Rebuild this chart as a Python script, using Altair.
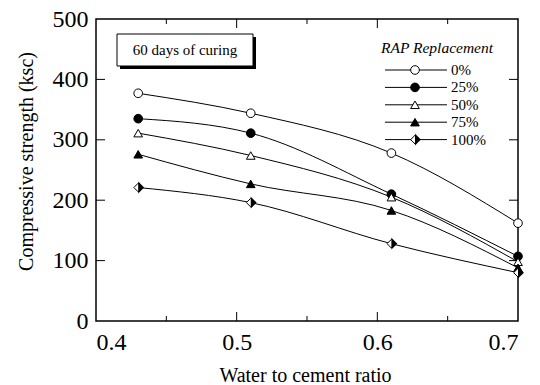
import altair as alt
import pandas as pd

# ---- data ----
wc_ratio = [0.43, 0.51, 0.61, 0.70]
series_names = ["0%", "25%", "50%", "75%", "100%"]
strength = {
    "0%":   [377, 344, 278, 162],
    "25%":  [335, 311, 210, 107],
    "50%":  [311, 274, 205, 98],
    "75%":  [276, 227, 183, 88],
    "100%": [221, 196, 128, 80],
}
x_major_ticks = [0.5, 0.6]
x_minor_ticks = [0.45, 0.55, 0.65]
x_labels = [0.4, 0.5, 0.6, 0.7]
y_ticks = [100, 200, 300, 400]
y_labels = [0, 100, 200, 300, 400, 500]

rows = []
for s in series_names:
    for x, v in zip(wc_ratio, strength[s]):
        rows.append({"series": s, "wc": x, "ksc": v})
df = pd.DataFrame(rows)

# ---- layout / style ----
W, H = 422, 302
FONT = "Liberation Serif"
shapes = ["circle", "circle", "triangle-up", "triangle-up", "diamond"]
fills = ["white", "black", "white", "black", "white"]
sizes = [75, 75, 95, 95, 140]
HALF_DIAMOND = "M0,-1L1,0L0,1Z"

xs = alt.Scale(domain=[0.4, 0.7], nice=False, zero=False)
ys = alt.Scale(domain=[0, 500], nice=False)
shape_sc = alt.Scale(domain=series_names, range=shapes)
fill_sc = alt.Scale(domain=series_names, range=fills)
size_sc = alt.Scale(domain=series_names, range=sizes)

base = alt.Chart(df)

lines = base.mark_line(interpolate="monotone", color="black", strokeWidth=1).encode(
    x=alt.X("wc:Q", scale=xs, axis=alt.Axis(
        values=x_labels, format=".1f", ticks=False, domain=False, grid=False,
        labelFont=FONT, labelFontSize=24, labelColor="black", labelPadding=9,
        title="Water to cement ratio", titleFont=FONT, titleFontSize=20,
        titleFontWeight="normal", titleColor="black", titleX=209, titleY=60,
        titleAlign="center", titleBaseline="alphabetic")),
    y=alt.Y("ksc:Q", scale=ys, axis=alt.Axis(
        values=y_labels, ticks=False, domain=False, grid=False,
        labelFont=FONT, labelFontSize=24, labelColor="black", labelPadding=8,
        title="Compressive strength (ksc)", titleFont=FONT, titleFontSize=20,
        titleFontWeight="normal", titleColor="black", titleAngle=-90,
        titleX=-64, titleY=142, titleAlign="center", titleBaseline="alphabetic")),
    detail="series:N",
)

points = base.mark_point(filled=True, stroke="black", strokeWidth=1, opacity=1).encode(
    x=alt.X("wc:Q", scale=xs),
    y=alt.Y("ksc:Q", scale=ys),
    shape=alt.Shape("series:N", scale=shape_sc, legend=None),
    fill=alt.Fill("series:N", scale=fill_sc, legend=None),
    size=alt.Size("series:N", scale=size_sc, legend=None),
)

half = base.transform_filter(alt.datum.series == "100%").mark_point(
    filled=True, fill="black", strokeWidth=0, shape=HALF_DIAMOND, size=140, opacity=1
).encode(x=alt.X("wc:Q", scale=xs), y=alt.Y("ksc:Q", scale=ys))

# ---- inward ticks ----
tx_major = pd.DataFrame({"t": x_major_ticks})
tx_minor = pd.DataFrame({"t": x_minor_ticks})
ty = pd.DataFrame({"t": y_ticks})
tick_layers = []
for d, ln in [(tx_major, 9), (tx_minor, 5)]:
    tick_layers.append(alt.Chart(d).mark_rule(color="black", strokeWidth=1).encode(
        x=alt.X("t:Q", scale=xs), y=alt.value(H), y2=alt.value(H - ln)))
    tick_layers.append(alt.Chart(d).mark_rule(color="black", strokeWidth=1).encode(
        x=alt.X("t:Q", scale=xs), y=alt.value(0), y2=alt.value(ln)))
tick_layers.append(alt.Chart(ty).mark_rule(color="black", strokeWidth=1).encode(
    y=alt.Y("t:Q", scale=ys), x=alt.value(0), x2=alt.value(9)))
tick_layers.append(alt.Chart(ty).mark_rule(color="black", strokeWidth=1).encode(
    y=alt.Y("t:Q", scale=ys), x=alt.value(W - 9), x2=alt.value(W)))

# ---- annotation box ----
box_shadow = alt.Chart(pd.DataFrame({"a": [0]})).mark_rect(fill="black").encode(
    x=alt.value(24), x2=alt.value(160), y=alt.value(18), y2=alt.value(50))
box = alt.Chart(pd.DataFrame({"a": [0]})).mark_rect(fill="white", stroke="black", strokeWidth=1).encode(
    x=alt.value(21), x2=alt.value(157), y=alt.value(15), y2=alt.value(47))
box_text = alt.Chart(pd.DataFrame({"txt": ["60 days of curing"]})).mark_text(
    font=FONT, fontSize=15, color="black", align="center", baseline="middle").encode(
    x=alt.value(89), y=alt.value(31), text="txt:N")

# ---- manual legend ----
LEG_Y0, LEG_DY = 51, 17.4
leg = pd.DataFrame({"series": series_names, "i": list(range(len(series_names)))})
legbase = alt.Chart(leg).transform_calculate(py=f"{LEG_Y0} + datum.i * {LEG_DY}")
leg_lines = legbase.mark_rule(color="black", strokeWidth=1).encode(
    x=alt.value(289), x2=alt.value(351), y=alt.Y("py:Q", scale=None))
leg_pts = legbase.mark_point(filled=True, stroke="black", strokeWidth=1, opacity=1).encode(
    x=alt.value(319), y=alt.Y("py:Q", scale=None),
    shape=alt.Shape("series:N", scale=shape_sc, legend=None),
    fill=alt.Fill("series:N", scale=fill_sc, legend=None),
    size=alt.Size("series:N", scale=size_sc, legend=None))
leg_half = legbase.transform_filter(alt.datum.series == "100%").mark_point(
    filled=True, fill="black", strokeWidth=0, shape=HALF_DIAMOND, size=140, opacity=1
).encode(x=alt.value(319), y=alt.Y("py:Q", scale=None))
leg_text = legbase.mark_text(font=FONT, fontSize=15, color="black", align="left",
                             baseline="middle").encode(
    x=alt.value(355), y=alt.Y("py:Q", scale=None), text="series:N")
leg_title = alt.Chart(pd.DataFrame({"txt": ["RAP Replacement"]})).mark_text(
    font=FONT, fontSize=15.5, fontStyle="italic", color="black", align="center",
    baseline="middle").encode(x=alt.value(341), y=alt.value(29), text="txt:N")

chart = alt.layer(
    lines, *tick_layers, box_shadow, box, box_text,
    leg_lines, leg_pts, leg_half, leg_text, leg_title,
    points, half,
).properties(
    width=W, height=H,
    autosize=alt.AutoSizeParams(type="none"),
    padding={"left": 96, "top": 19, "right": 22, "bottom": 64},
    background="white",
).configure_view(stroke="black", strokeWidth=1.5)

chart.save("out.html", embed_options={"renderer": "svg", "actions": False})
